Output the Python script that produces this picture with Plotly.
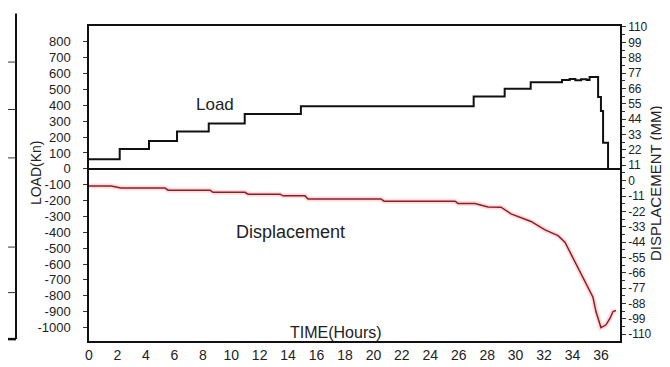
import plotly.graph_objects as go

# ---- data ----
load_time = [0, 2.16, 4.22, 6.19, 8.42, 10.95, 14.9, 27.05, 29.23, 31.06, 33.26,
             33.8, 34.2, 34.6, 35.0, 35.2, 35.8, 36.0, 36.15, 36.5]
load_kn = [60, 125, 175, 235, 285, 345, 395, 455, 505, 545, 560,
           566, 558, 565, 560, 578, 453, 364, 164, 0]

disp_time = [0, 1.55, 2.25, 5.34, 5.56, 8.51, 8.72, 10.97, 11.18, 13.43, 13.64,
             15.19, 15.4, 20.53, 20.75, 25.74, 25.95, 27.14, 28.06, 28.97, 29.68,
             31.08, 32.07, 32.98, 33.47, 34.04, 34.6, 35.09, 35.44, 35.65, 35.94,
             36.0, 36.36, 36.64, 36.85, 37.06]
disp_mm = [-3.9, -3.9, -5.2, -5.2, -6.8, -6.8, -8.4, -8.4, -9.7, -9.7, -10.9,
           -10.9, -13.1, -13.1, -14.7, -14.7, -16.3, -16.3, -18.8, -19.0, -23.8,
           -29.2, -35.3, -39.4, -44.1, -55.7, -66.5, -76.1, -83.5, -93.7, -103.2,
           -105.2, -103.2, -98.5, -93.7, -93.0]

x_ticks = list(range(0, 37, 2))
load_ticks = [800, 700, 600, 500, 400, 300, 200, 100, 0, -100, -200, -300, -400,
              -500, -600, -700, -800, -900, -1000]
load_ticktext = [str(v) for v in load_ticks]
disp_ticks = [110, 99, 88, 77, 66, 55, 44, 33, 22, 11, 0, -11, -22, -33, -44,
              -55, -66, -77, -88, -99, -110]
disp_ticktext = [str(v) for v in disp_ticks]

FONT = "Liberation Sans, Arial, sans-serif"
TXT = "#222222"

fig = go.Figure()
fig.add_trace(go.Scatter(x=load_time, y=load_kn, mode="lines",
                         line=dict(color="#111111", width=2, shape="hv"),
                         yaxis="y", showlegend=False, hoverinfo="skip"))
fig.add_trace(go.Scatter(x=disp_time, y=disp_mm, mode="lines",
                         line=dict(color="rgba(255,60,60,0.18)", width=5),
                         yaxis="y2", showlegend=False, hoverinfo="skip"))
fig.add_trace(go.Scatter(x=disp_time, y=disp_mm, mode="lines",
                         line=dict(color="#8e1d2a", width=1.5),
                         yaxis="y2", showlegend=False, hoverinfo="skip"))

# decorative border of the neighbouring panel (left edge of the scan)
border_x = (8 - 81) / 531
shapes = [
    dict(type="line", xref="paper", yref="paper", x0=border_x, x1=border_x,
         y0=1.04, y1=0.006, line=dict(color="#111111", width=2)),
    dict(type="line", xref="paper", yref="paper", x0=-0.16, x1=border_x,
         y0=0.006, y1=0.006, line=dict(color="#111111", width=2.5)),
]
for py in [50, 100, 151, 245, 293]:
    yp = (344 - py) / 332
    shapes.append(dict(type="line", xref="paper", yref="paper", x0=-0.16,
                       x1=border_x, y0=yp, y1=yp,
                       line=dict(color="#333333", width=1)))

fig.update_layout(
    width=670, height=367,
    margin=dict(l=81, r=58, t=12, b=23),
    paper_bgcolor="white", plot_bgcolor="white",
    font=dict(family=FONT, size=13, color=TXT),
    xaxis=dict(range=[0, 37.34], tickvals=x_ticks, ticks="", showgrid=False,
               zeroline=False, showline=True, linecolor="#111111", linewidth=1.5,
               mirror=True, tickfont=dict(size=14, color=TXT)),
    yaxis=dict(range=[-1085, 900], tickvals=load_ticks, ticktext=load_ticktext,
               ticks="outside", ticklen=4, tickcolor="#333333",
               ticklabelstandoff=10, showgrid=False,
               zeroline=True, zerolinecolor="#111111", zerolinewidth=1.5,
               showline=True, linecolor="#111111", linewidth=1.5,
               tickfont=dict(size=13, color=TXT)),
    yaxis2=dict(range=[-114.8, 110.7], overlaying="y", side="right",
                tickvals=disp_ticks, ticktext=disp_ticktext,
                ticks="outside", ticklen=4, tickcolor="#333333",
                minor=dict(ticks="outside", ticklen=3, dtick=5.5, tick0=0,
                           tickcolor="#333333"),
                showgrid=False, zeroline=False,
                showline=True, linecolor="#111111", linewidth=1.5,
                tickfont=dict(size=12, color=TXT)),
    annotations=[
        dict(text="Load", xref="paper", yref="paper", x=0.198, y=0.786,
             showarrow=False, font=dict(size=17, color=TXT)),
        dict(text="Displacement", xref="paper", yref="paper", x=0.273, y=0.346,
             showarrow=False, font=dict(size=18, color=TXT)),
        dict(text="TIME(Hours)", xref="paper", yref="paper", x=0.465, y=0.027,
             showarrow=False, yanchor="middle", font=dict(size=16, color=TXT)),
        dict(text="LOAD(Kn)", xref="paper", yref="paper", x=(18 - 81) / 531,
             y=0.533, textangle=-90, showarrow=False,
             font=dict(size=14, color=TXT)),
        dict(text="DISPLACEMENT (MM)", xref="paper", yref="paper",
             x=(658 - 81) / 531, y=0.5, textangle=-90, showarrow=False,
             font=dict(size=15, color=TXT)),
    ],
    shapes=shapes,
)

fig.write_html("out.html")
